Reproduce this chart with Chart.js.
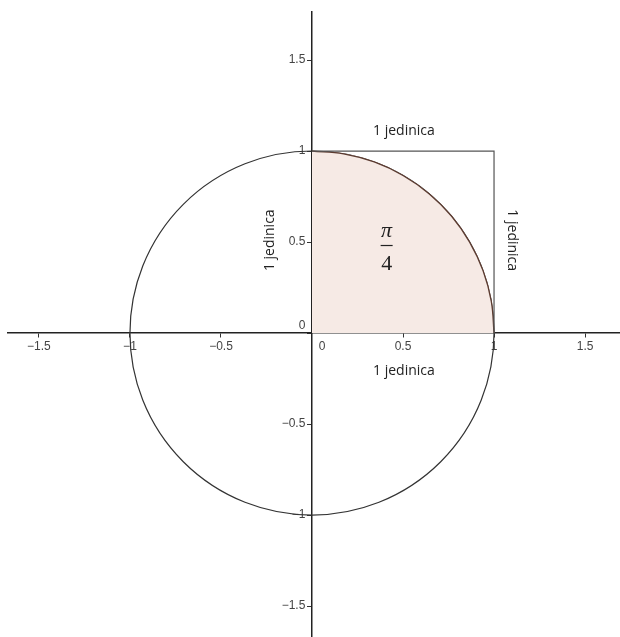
<!DOCTYPE html>
<html>
<head>
<meta charset="utf-8">
<script src="https://cdn.jsdelivr.net/npm/chart.js@4"></script>
<style>
  html, body { margin: 0; padding: 0; background: #fff; }
  canvas { display: block; }
</style>
</head>
<body>
<canvas id="circle-chart" width="620" height="637"></canvas>
<script>
// quarter arc of the unit circle, read every 10 degrees
const arcX = [0, 0.174, 0.342, 0.5, 0.643, 0.766, 0.866, 0.94, 0.985, 1];
const arcY = [1, 0.985, 0.94, 0.866, 0.766, 0.643, 0.5, 0.342, 0.174, 0];

// unit square corner (the two sides not on the axes)
const squareX = [0, 1, 1];
const squareY = [1, 1, 0];

// the whole unit circle
const circleCenter = [{ x: 0, y: 0 }];
const circleRadius = 1;

const sideLabel = "1 jedinica";
const areaTop = "π";
const areaBottom = "4";

const toPoints = (xs, ys) => xs.map((x, i) => ({ x: x, y: ys[i] }));

// the y labels sit right on the axis line, so pad them with spaces
function tickText(value, axis) {
  if (value === 0) return axis === "x" ? "      0" : ["0  ", ""];
  const text = String(value).replace("-", "\u2212");
  return axis === "y" ? text + "  " : text;
}

function noPadding(scale) {
  scale.paddingLeft = 0;
  scale.paddingRight = 0;
  scale.paddingTop = 0;
  scale.paddingBottom = 0;
}

const tickFont = { family: '"Liberation Sans", Arial, sans-serif', size: 12 };

const textPlugin = {
  id: "textLabels",
  afterDatasetsDraw(chart) {
    const { ctx } = chart;
    const { x, y } = chart.scales;
    ctx.save();
    ctx.fillStyle = "#222";
    ctx.font = '14px "Open Sans", sans-serif';
    ctx.textAlign = "center";
    ctx.textBaseline = "middle";

    ctx.fillText(sideLabel, x.getPixelForValue(0.505), y.getPixelForValue(1.11));
    ctx.fillText(sideLabel, x.getPixelForValue(0.505), y.getPixelForValue(-0.21));

    ctx.save();
    ctx.translate(x.getPixelForValue(1.1), y.getPixelForValue(0.51));
    ctx.rotate(Math.PI / 2);
    ctx.fillText(sideLabel, 0, 0);
    ctx.restore();

    ctx.save();
    ctx.translate(x.getPixelForValue(-0.23), y.getPixelForValue(0.51));
    ctx.rotate(-Math.PI / 2);
    ctx.fillText(sideLabel, 0, 0);
    ctx.restore();

    // pi / 4 fraction
    const cx = x.getPixelForValue(0.41);
    const cy = y.getPixelForValue(0.481);
    ctx.textBaseline = "alphabetic";
    ctx.font = 'italic 22px "Liberation Serif", serif';
    ctx.fillText(areaTop, cx, cy - 9);
    ctx.fillRect(cx - 6, cy - 0.6, 12, 1.2);
    ctx.font = '22px "Liberation Serif", serif';
    ctx.fillText(areaBottom, cx, cy + 24);
    ctx.restore();
  },
};

new Chart(document.getElementById("circle-chart"), {
  type: "scatter",
  data: {
    datasets: [
      {
        label: "kvadrat",
        data: toPoints(squareX, squareY),
        showLine: true,
        borderColor: "#555",
        borderWidth: 1.2,
        pointRadius: 0,
        fill: false,
        order: 0,
      },
      {
        label: "četvrtina kruga",
        data: toPoints(arcX, arcY),
        showLine: true,
        tension: 0.4,
        borderColor: "#5c3b30",
        borderWidth: 1.3,
        backgroundColor: "#f6eae5",
        fill: "origin",
        pointRadius: 0,
        order: 1,
      },
      {
        label: "kružnica",
        data: circleCenter,
        pointRadius: (ctx) =>
          ctx.chart.scales.x.getPixelForValue(circleRadius) -
          ctx.chart.scales.x.getPixelForValue(0),
        pointBorderColor: "#333",
        pointBorderWidth: 1.2,
        pointBackgroundColor: "rgba(0,0,0,0)",
        order: 2,
      },
    ],
  },
  options: {
    responsive: false,
    animation: false,
    events: [],
    layout: { padding: { left: 8, top: 12, right: 0, bottom: 0 } },
    plugins: {
      legend: { display: false },
      tooltip: { enabled: false },
    },
    scales: {
      x: {
        type: "linear",
        position: { y: 0 },
        min: -1.67,
        max: 1.692,
        z: 1,
        border: { display: true, color: "#222", width: 1.5 },
        grid: { drawOnChartArea: false, drawTicks: true, tickLength: 4, tickColor: "#333", tickWidth: 1 },
        ticks: {
          stepSize: 0.5,
          includeBounds: false,
          autoSkip: false,
          maxRotation: 0,
          padding: 2,
          color: "#444",
          font: tickFont,
          callback: (value) => tickText(value, "x"),
        },
        afterFit: noPadding,
      },
      y: {
        type: "linear",
        position: { x: 0 },
        min: -1.67,
        max: 1.764,
        z: 1,
        border: { display: true, color: "#222", width: 1.5 },
        grid: { drawOnChartArea: false, drawTicks: true, tickLength: 4, tickColor: "#333", tickWidth: 1 },
        ticks: {
          stepSize: 0.5,
          includeBounds: false,
          autoSkip: false,
          padding: 3,
          color: "#444",
          font: tickFont,
          callback: (value) => tickText(value, "y"),
        },
        afterFit: noPadding,
      },
    },
  },
  plugins: [textPlugin],
});
</script>
</body>
</html>
